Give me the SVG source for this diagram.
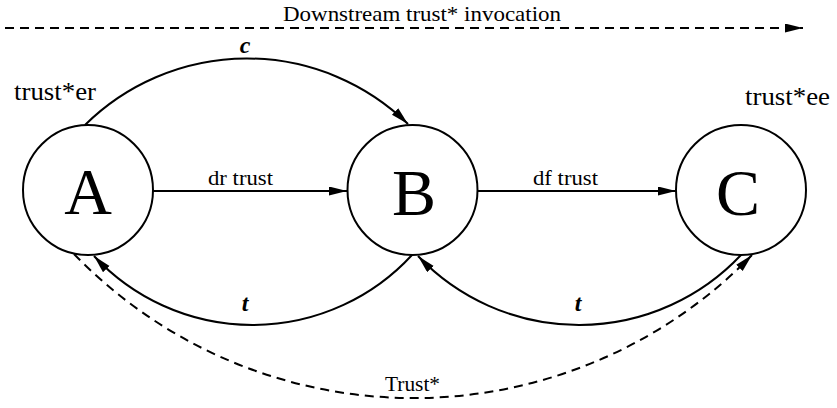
<svg xmlns="http://www.w3.org/2000/svg" width="837" height="408" viewBox="0 0 837 408">
  <style>
    text { font-family: "Liberation Serif", "Times New Roman", Times, serif; fill: #000; }
    .node { fill: #fff; stroke: #000; stroke-width: 2; }
    .big { font-size: 66px; text-anchor: middle; }
    .lbl { font-size: 22px; }
    .role { font-size: 26px; }
    .var { font-size: 24px; font-weight: bold; font-style: italic; text-anchor: middle; }
    .edge { fill: none; stroke: #000; stroke-width: 2; }
    .dash { stroke-dasharray: 9 6; }
  </style>
  <defs>
    <marker id="arr" markerUnits="userSpaceOnUse" markerWidth="20" markerHeight="10" refX="18" refY="4.5" orient="auto">
      <path d="M0,0 L18,4.5 L0,9 z" fill="#000"/>
    </marker>
  </defs>

  <g id="connectors">
    <g id="invocation">
      <path class="edge dash" d="M5,28 L803,28" marker-end="url(#arr)"/>
      <text class="lbl" x="283" y="21" textLength="278" lengthAdjust="spacingAndGlyphs">Downstream trust* invocation</text>
    </g>
    <g id="edge-c">
      <path class="edge" d="M85,125 A230.6,230.6 0 0 1 408,124" marker-end="url(#arr)"/>
      <text class="var" x="245" y="53">c</text>
    </g>
    <g id="edge-dr">
      <path class="edge" d="M153,191 L347,191" marker-end="url(#arr)"/>
      <text class="lbl" x="208" y="185" textLength="65" lengthAdjust="spacingAndGlyphs">dr trust</text>
    </g>
    <g id="edge-df">
      <path class="edge" d="M478,191 L676,191" marker-end="url(#arr)"/>
      <text class="lbl" x="533" y="185" textLength="65" lengthAdjust="spacingAndGlyphs">df trust</text>
    </g>
    <g id="edge-t1">
      <path class="edge" d="M412,255 A216.7,216.7 0 0 1 94,256" marker-end="url(#arr)"/>
      <text class="var" x="245" y="311">t</text>
    </g>
    <g id="edge-t2">
      <path class="edge" d="M741,255 A222.5,222.5 0 0 1 418,256" marker-end="url(#arr)"/>
      <text class="var" x="578" y="311">t</text>
    </g>
    <g id="edge-trust">
      <path class="edge dash" d="M74,254 A472,472 0 0 0 752,255" marker-end="url(#arr)"/>
      <text class="lbl" x="385" y="391" textLength="55" lengthAdjust="spacingAndGlyphs">Trust*</text>
    </g>
  </g>

  <g id="node-A">
    <circle class="node" cx="88" cy="190" r="65"/>
    <text class="big" x="88" y="214">A</text>
    <text class="role" x="14" y="100" textLength="82" lengthAdjust="spacingAndGlyphs">trust*er</text>
  </g>
  <g id="node-B">
    <circle class="node" cx="412.5" cy="190" r="65"/>
    <text class="big" x="414" y="215">B</text>
  </g>
  <g id="node-C">
    <circle class="node" cx="741" cy="190" r="65"/>
    <text class="big" x="738" y="215">C</text>
    <text class="role" x="745" y="105" textLength="85" lengthAdjust="spacingAndGlyphs">trust*ee</text>
  </g>
</svg>
